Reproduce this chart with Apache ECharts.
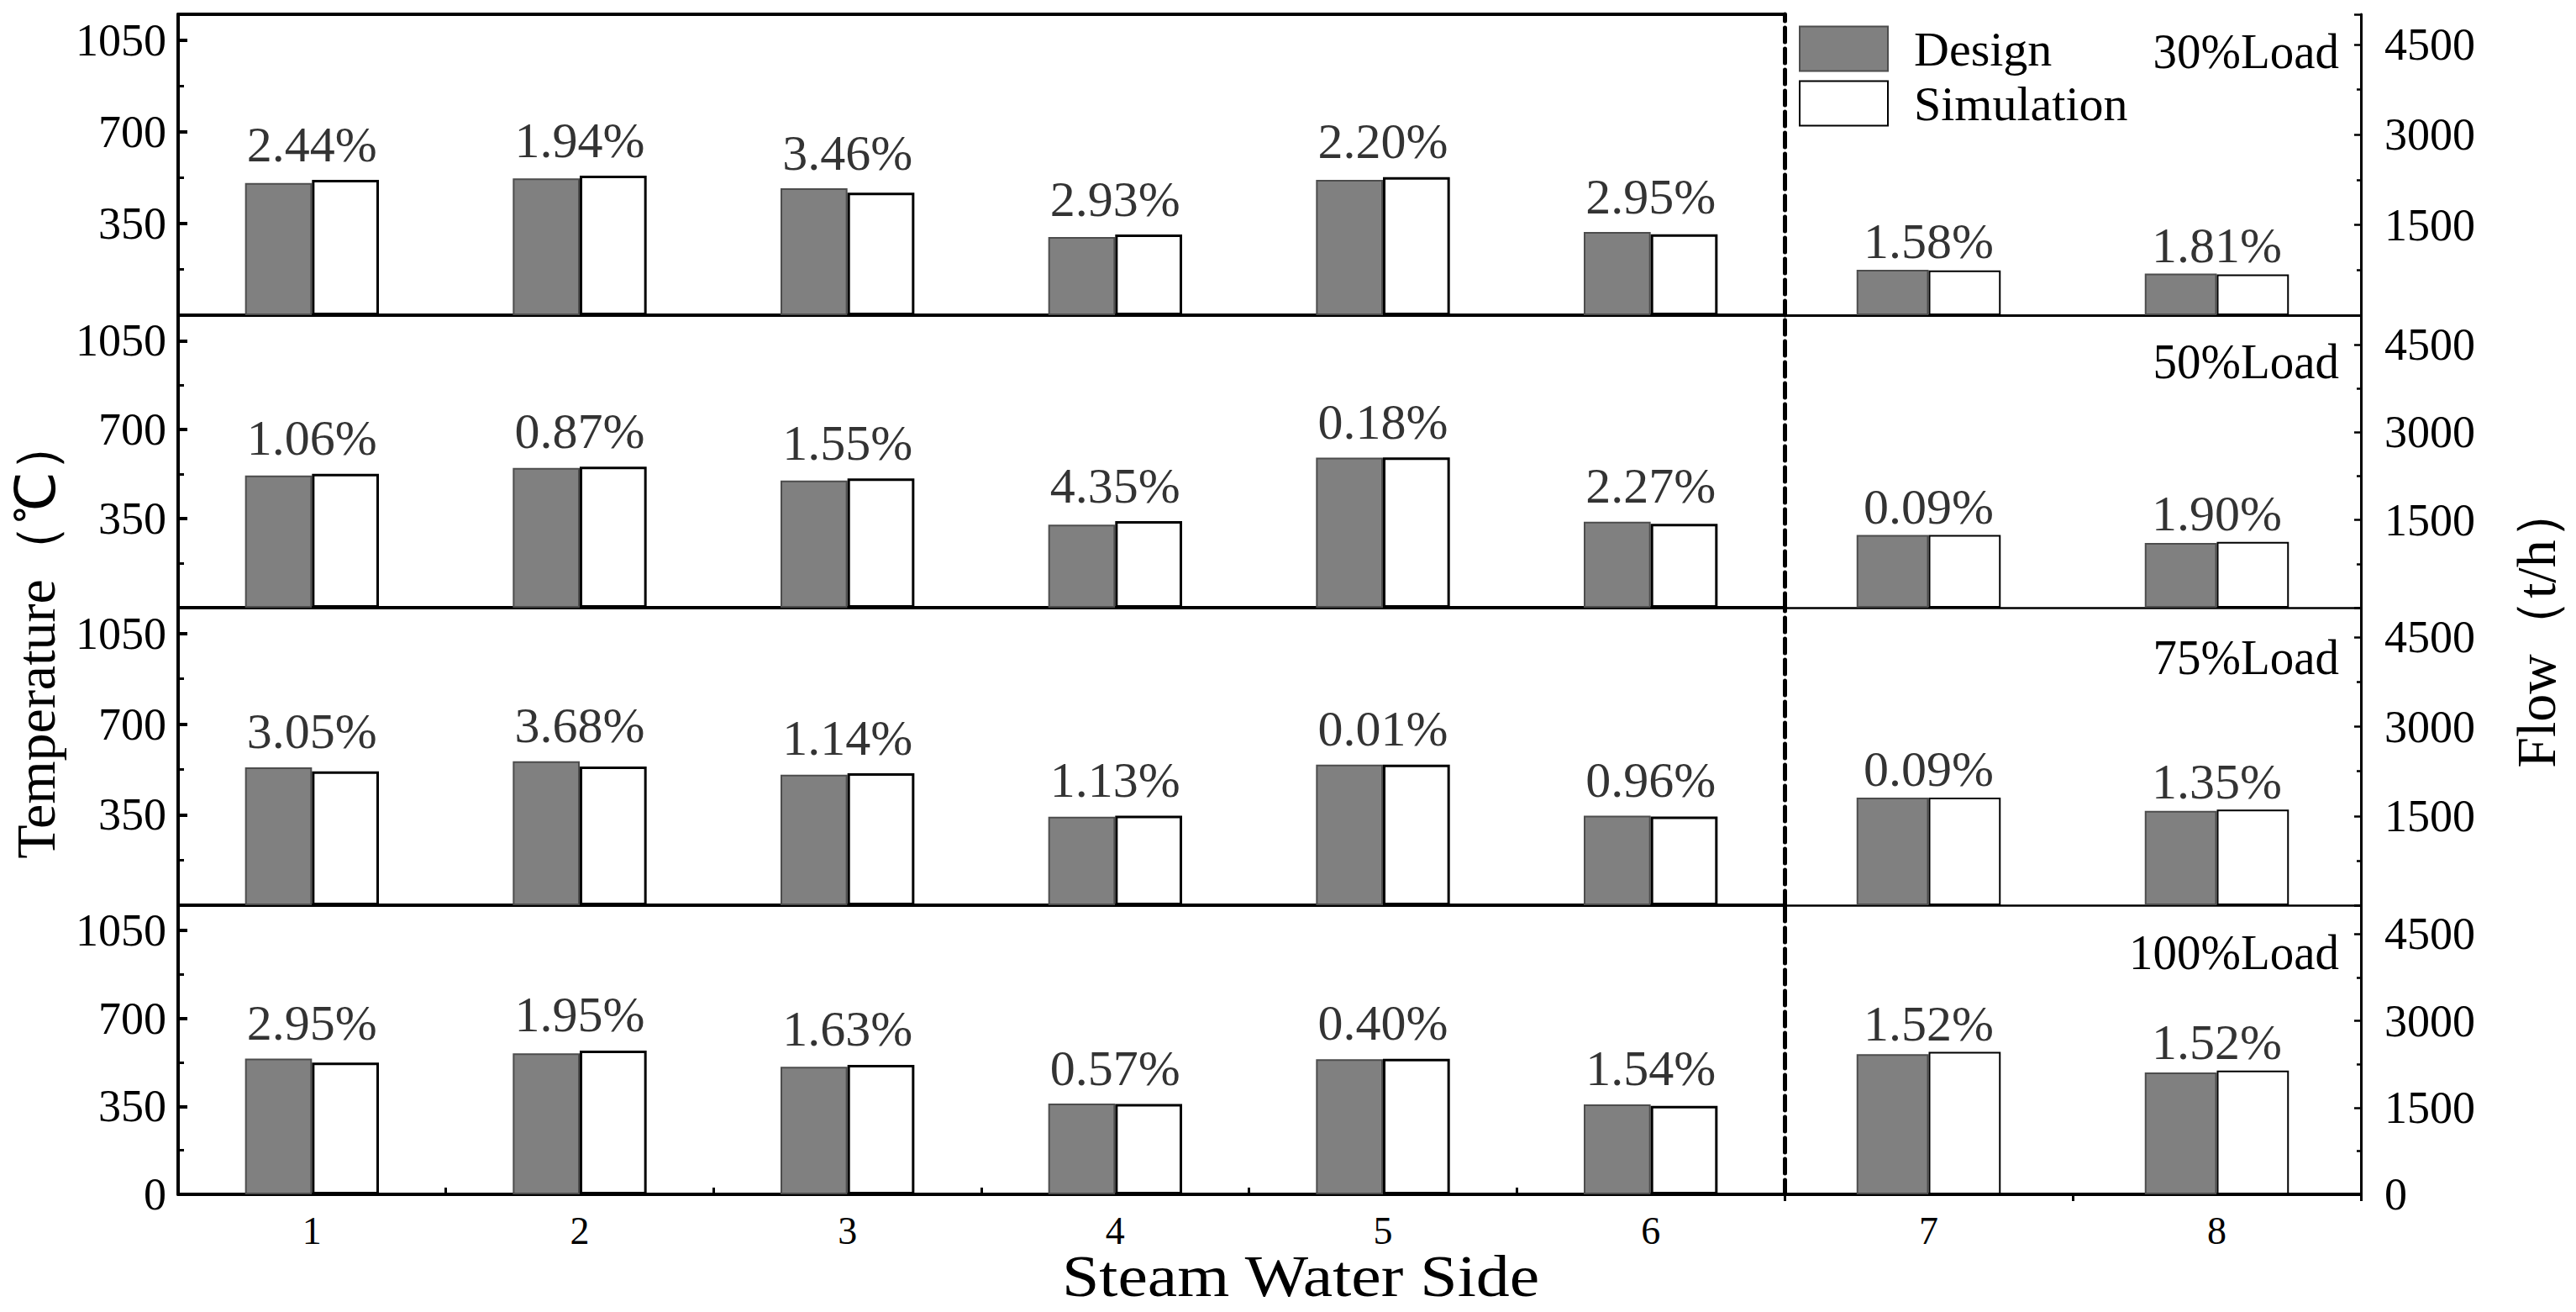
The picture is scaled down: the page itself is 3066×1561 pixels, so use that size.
<!DOCTYPE html>
<html>
<head>
<meta charset="utf-8">
<script src="https://cdn.jsdelivr.net/npm/echarts@6/dist/echarts.min.js"></script>
<style>
html,body{margin:0;padding:0;background:#ffffff;}
#chart{width:3066px;height:1561px;}
</style>
</head>
<body>
<div id="chart"></div>
<script>
// ---------------- data ----------------
const categoriesLeft = ['1', '2', '3', '4', '5', '6'];
const categoriesRight = ['7', '8'];
const loadLabels = ['30%Load', '50%Load', '75%Load', '100%Load'];
const seriesNames = ['Design', 'Simulation'];

// Temperature (°C), steam-water side 1-6, one row per load
const tempDesign = [
  [505, 523, 485, 299, 517, 318],
  [520, 549, 500, 326, 590, 338],
  [533, 556, 504, 342, 543, 346],
  [540, 561, 507, 361, 537, 358]
];
const tempSim = [
  [517, 533, 468, 308, 528, 309],
  [526, 554, 508, 340, 591, 330],
  [517, 536, 510, 346, 543, 343],
  [524, 572, 515, 359, 539, 352]
];
// Flow (t/h), steam-water side 7-8
const flowDesign = [
  [755, 690],
  [1243, 1105],
  [1807, 1585],
  [2425, 2108]
];
const flowSim = [
  [743, 678],
  [1244, 1126],
  [1809, 1606],
  [2462, 2140]
];
// relative deviation labels
const errLeft = [
  ['2.44%', '1.94%', '3.46%', '2.93%', '2.20%', '2.95%'],
  ['1.06%', '0.87%', '1.55%', '4.35%', '0.18%', '2.27%'],
  ['3.05%', '3.68%', '1.14%', '1.13%', '0.01%', '0.96%'],
  ['2.95%', '1.95%', '1.63%', '0.57%', '0.40%', '1.54%']
];
const errRight = [
  ['1.58%', '1.81%'],
  ['0.09%', '1.90%'],
  ['0.09%', '1.35%'],
  ['1.52%', '1.52%']
];
// axis scales
const tempAxis = { min: 0, max: 1150, interval: 350 };
const flowAxis = { min: 0, max: 5000, interval: 1500 };

// ---------------- layout ----------------
const panelTop = [17, 375, 723, 1077];
const panelHeight = [358, 348, 354, 344];
const xLeft = 212, xSplit = 2124, xRight = 2810, W = 3066;
const loadTitleY = [61, 430, 782, 1133];

const SERIF = 'Liberation Serif';

const grid = [], xAxis = [], yAxis = [], series = [];
const plain = (v) => String(v);

for (let p = 0; p < 4; p++) {
  const last = p === 3;
  grid.push({ left: xLeft, right: W - xSplit, top: panelTop[p], height: panelHeight[p] });
  grid.push({ left: xSplit, right: W - xRight, top: panelTop[p], height: panelHeight[p] });

  // x axes
  xAxis.push({
    type: 'category', gridIndex: 2 * p, data: categoriesLeft,
    axisLine: { show: true, lineStyle: { color: '#000', width: 4 } },
    axisTick: { show: last, inside: true, length: 8, lineStyle: { color: '#000', width: 3 } },
    axisLabel: { show: last, color: '#000', fontFamily: SERIF, fontSize: 46, margin: 20 },
    splitLine: { show: false }
  });
  xAxis.push({
    type: 'category', gridIndex: 2 * p + 1, data: categoriesRight,
    axisLine: { show: true, lineStyle: { color: '#000', width: last ? 4 : 2.5 } },
    axisTick: { show: last, inside: false, length: 8, lineStyle: { color: '#000', width: 3 } },
    axisLabel: { show: last, color: '#000', fontFamily: SERIF, fontSize: 46, margin: 20 },
    splitLine: { show: false }
  });

  // y axes: temperature (left grid), dashed divider + flow (right grid)
  yAxis.push({
    type: 'value', gridIndex: 2 * p, position: 'left',
    min: tempAxis.min, max: tempAxis.max, interval: tempAxis.interval,
    axisLine: { show: true, lineStyle: { color: '#000', width: 4 } },
    axisTick: { show: true, inside: true, length: 11, lineStyle: { color: '#000', width: 4 } },
    minorTick: { show: true, splitNumber: 2, length: 7, lineStyle: { color: '#000', width: 3 } },
    splitLine: { show: false }, minorSplitLine: { show: false },
    axisLabel: { color: '#000', fontFamily: SERIF, fontSize: 54, margin: 14, formatter: plain,
                 showMaxLabel: false, showMinLabel: last }
  });
  yAxis.push({
    type: 'value', gridIndex: 2 * p + 1, position: 'left', min: 0, max: 1,
    axisLine: { show: true, lineStyle: { color: '#000', width: 5, type: [17, 8] } },
    axisTick: { show: false }, axisLabel: { show: false }, splitLine: { show: false }
  });
  yAxis.push({
    type: 'value', gridIndex: 2 * p + 1, position: 'right',
    min: flowAxis.min, max: flowAxis.max, interval: flowAxis.interval,
    axisLine: { show: true, lineStyle: { color: '#000', width: 3 } },
    axisTick: { show: true, inside: true, length: 8, lineStyle: { color: '#000', width: 2.5 } },
    minorTick: { show: true, splitNumber: 2, length: 5, lineStyle: { color: '#000', width: 2.5 } },
    splitLine: { show: false }, minorSplitLine: { show: false },
    axisLabel: { color: '#000', fontFamily: SERIF, fontSize: 54, margin: 28, formatter: plain,
                 showMaxLabel: false, showMinLabel: last }
  });

  const designStyle = { color: '#808080', borderColor: '#4d4d4d', borderWidth: 2 };
  const simStyleL = { color: '#ffffff', borderColor: '#000000', borderWidth: 3 };
  const simStyleR = { color: '#ffffff', borderColor: '#000000', borderWidth: 2 };
  const errLabel = (dist) => ({
    show: true, position: 'top', distance: dist, formatter: '{b}',
    color: '#000', fontFamily: SERIF, fontSize: 60
  });

  // left part: temperature
  series.push({ name: seriesNames[0], type: 'bar', xAxisIndex: 2 * p, yAxisIndex: 3 * p,
    data: tempDesign[p], barWidth: '25%', barGap: '0%', itemStyle: designStyle });
  series.push({ name: seriesNames[1], type: 'bar', xAxisIndex: 2 * p, yAxisIndex: 3 * p,
    data: tempSim[p], barWidth: '25%', barGap: '0%', itemStyle: simStyleL });
  series.push({ name: 'deviation', type: 'scatter', xAxisIndex: 2 * p, yAxisIndex: 3 * p,
    symbolSize: 1, itemStyle: { color: 'rgba(0,0,0,0)' }, silent: true, z: 5,
    data: tempDesign[p].map((d, i) => ({ name: errLeft[p][i], value: Math.max(d, tempSim[p][i]) })),
    label: errLabel(12) });

  // right part: flow
  series.push({ name: seriesNames[0], type: 'bar', xAxisIndex: 2 * p + 1, yAxisIndex: 3 * p + 2,
    data: flowDesign[p], barWidth: '25%', barGap: '0%', itemStyle: designStyle });
  series.push({ name: seriesNames[1], type: 'bar', xAxisIndex: 2 * p + 1, yAxisIndex: 3 * p + 2,
    data: flowSim[p], barWidth: '25%', barGap: '0%', itemStyle: simStyleR });
  series.push({ name: 'deviation', type: 'scatter', xAxisIndex: 2 * p + 1, yAxisIndex: 3 * p + 2,
    symbolSize: 1, itemStyle: { color: 'rgba(0,0,0,0)' }, silent: true, z: 5,
    data: flowDesign[p].map((d, i) => ({ name: errRight[p][i], value: Math.max(d, flowSim[p][i]) })),
    label: errLabel(3) });
}

// top border of the first panel
xAxis.push({ type: 'category', gridIndex: 0, position: 'top', data: categoriesLeft,
  axisLine: { show: true, lineStyle: { color: '#000', width: 4 } },
  axisTick: { show: false }, axisLabel: { show: false }, splitLine: { show: false } });
xAxis.push({ type: 'category', gridIndex: 1, position: 'top', data: categoriesRight,
  axisLine: { show: true, lineStyle: { color: '#000', width: 3 } },
  axisTick: { show: false }, axisLabel: { show: false }, splitLine: { show: false } });

const txt = (o) => Object.assign({ type: 'text', silent: true }, o);
const graphic = [
  txt({ x: 42, y: 759, rotation: Math.PI / 2,
    style: { text: 'Temperature（℃）', font: '66px ' + SERIF, fill: '#000',
             align: 'center', verticalAlign: 'middle', textAlign: 'center', textVerticalAlign: 'middle' } }),
  txt({ x: 3018, y: 745, rotation: Math.PI / 2,
    style: { text: 'Flow（t/h）', font: '66px ' + SERIF, fill: '#000',
             align: 'center', verticalAlign: 'middle', textAlign: 'center', textVerticalAlign: 'middle' } }),
  txt({ x: 1548, y: 1518, scaleX: 1.14,
    style: { text: 'Steam Water Side', font: '70px ' + SERIF, fill: '#000',
             align: 'center', verticalAlign: 'middle', textAlign: 'center', textVerticalAlign: 'middle' } })
];
loadLabels.forEach((t, p) => {
  graphic.push(txt({ x: 2784, y: loadTitleY[p], scaleX: 0.95,
    style: { text: t, font: '60px ' + SERIF, fill: '#000',
             align: 'right', verticalAlign: 'middle', textAlign: 'right', textVerticalAlign: 'middle' } }));
});

const chart = echarts.init(document.getElementById('chart'), null, { renderer: 'svg' });
chart.setOption({
  backgroundColor: '#ffffff',
  animation: false,
  grid, xAxis, yAxis, series, graphic,
  legend: {
    data: seriesNames, orient: 'vertical', left: 2141, top: 29, padding: 0,
    itemWidth: 105, itemHeight: 53, itemGap: 7, icon: 'rect', selectedMode: false,
    textStyle: { color: '#000', fontFamily: SERIF, fontSize: 58, padding: [0, 0, 0, 26] }
  }
});
</script>
</body>
</html>
